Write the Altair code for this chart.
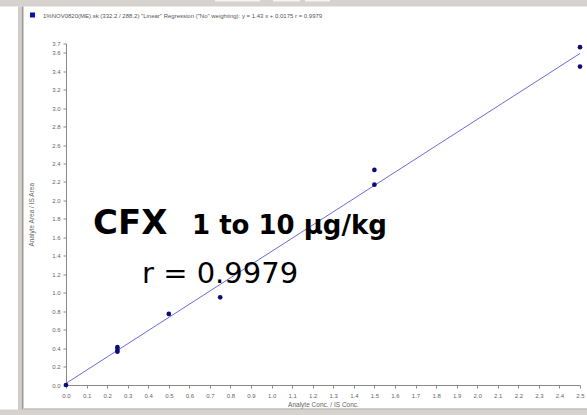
import altair as alt
import pandas as pd

# Calibration points
conc = [0.0, 0.25, 0.25, 0.25, 0.5, 0.75, 1.5, 1.5, 2.5, 2.5]
ratio = [0.0, 0.36, 0.38, 0.41, 0.77, 0.95, 2.17, 2.33, 3.45, 3.66]

# Regression line given in the header
slope = 1.43
intercept = 0.0175
line_x = [0.0, 2.5]

x_ticks = [round(i * 0.1, 1) for i in range(26)]
y_ticks = [round(i * 0.2, 1) for i in range(19)] + [3.7]

header = '1%NOV0820(ME).sk (332.2 / 288.2) "Linear" Regression ("No" weighting): y = 1.43 x + 0.0175 r = 0.9979'

W, H = 514, 341.5
pts = pd.DataFrame({"x": conc, "y": ratio})
ln = pd.DataFrame({"x": line_x, "y": [slope * v + intercept for v in line_x]})

xs = alt.Scale(domain=[0, 2.5], nice=False, zero=False)
ys = alt.Scale(domain=[0, 3.7], nice=False, zero=False)

axis_common = dict(
    labelFont="Liberation Sans", labelFontSize=6, labelColor="#666666",
    titleFont="Liberation Sans", titleFontSize=6.5, titleColor="#666666",
    titleFontWeight="normal", domainColor="#8a8a8a", tickColor="#8a8a8a",
    tickSize=3, grid=False, labelFlush=False, labelOverlap=False,
    labelSeparation=0,
)

xaxis = alt.Axis(values=x_ticks, format=".1f", title="Analyte Conc. / IS Conc.",
                 labelPadding=4, titlePadding=3, labelAngle=0, **axis_common)
yaxis = alt.Axis(values=y_ticks, format=".1f", title="Analyte Area / IS Area",
                 labelPadding=3, titlePadding=17, **axis_common)

line = alt.Chart(ln).mark_line(color="#6b6bdc", strokeWidth=1).encode(
    x=alt.X("x:Q", scale=xs, axis=xaxis),
    y=alt.Y("y:Q", scale=ys, axis=yaxis),
)
points = alt.Chart(pts).mark_circle(color="#0c0c7a", size=22, opacity=1).encode(
    x=alt.X("x:Q", scale=xs, axis=xaxis), y=alt.Y("y:Q", scale=ys, axis=yaxis)
)

one = pd.DataFrame({"a": [0]})

def rect(x1, x2, y1, y2, color):
    return alt.Chart(one).mark_rect(color=color).encode(
        x=alt.value(x1), x2=alt.value(x2), y=alt.value(y1), y2=alt.value(y2))

frame = [
    rect(-66, 521, -43.5, -37, "#d6d3ce"),
    rect(-48, -42, -37, 385, "#d0cdc8"),
    rect(-44, -43, -37, 385, "#9a9a9a"),
    rect(-66, 521, 366, 385, "#d6d3ce"),
    rect(-42, 521, 365, 366, "#a0a0a0"),
    rect(149, 194, -43.5, -42, "#f4f4f4"),
    rect(207, 234, -43.5, -42, "#f4f4f4"),
    rect(239, 264, -43.5, -42, "#f4f4f4"),
    rect(-36, -31, -31, -26, "#1010b0"),
]

def txt(s, x, y, size, weight="normal", font="DejaVu Sans", color="#000000", align="left"):
    return alt.Chart(one).mark_text(text=s, fontSize=size, fontWeight=weight, font=font,
                                    color=color, align=align, baseline="alphabetic").encode(
        x=alt.value(x), y=alt.value(y))

texts = [
    txt(header, -23, -26, 6, font="Liberation Sans", color="#555555"),
    txt("CFX", 27, 190, 34, weight="bold"),
    txt("1 to 10 µg/kg", 126, 190, 26, weight="bold"),
    txt("r = 0.9979", 76, 239, 29),
]

chart = alt.layer(line, points, *frame, *texts).properties(
    width=W, height=H,
    padding={"left": 66, "top": 43.5, "right": 7, "bottom": 30},
    autosize=alt.AutoSizeParams(type="none"),
    background="#ffffff",
).configure_view(stroke=None).configure_axis(labelOverlap=False)

chart.save("out.html", embed_options={"renderer": "svg", "actions": False})
